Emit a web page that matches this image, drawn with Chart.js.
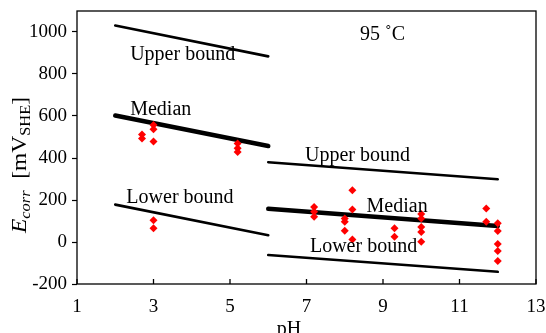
<!DOCTYPE html>
<html>
<head>
<meta charset="utf-8">
<script src="https://cdn.jsdelivr.net/npm/chart.js@4.4.0/dist/chart.umd.min.js"></script>
<style>
  html, body { margin: 0; padding: 0; background: #fff; }
  #wrap { width: 546px; height: 333px; position: relative; }
</style>
</head>
<body>
<div id="wrap"><canvas id="myChart"></canvas></div>
<script>
// bound lines, low pH range and high pH range
const phLow = [2, 6];
const phHigh = [6, 12];
const upperLow = [1031, 884];
const medianLow = [602, 457];
const lowerLow = [178, 32];
const upperHigh = [380, 299];
const medianHigh = [158, 76];
const lowerHigh = [-62, -142];

// measured corrosion potentials
const measPH = [2.7, 2.7, 3, 3, 3, 5.2, 5.2, 5.2, 3, 3,
                7.2, 7.2, 7.2, 8, 8, 8, 8.2, 8.2, 8.2, 9.3, 9.3,
                10, 10, 10, 10, 10, 11.7, 11.7, 12, 12, 12, 12, 12];
const measE = [512, 493, 557, 537, 478, 469, 447, 429, 104, 65,
               167, 144, 120, 112, 96, 53, 247, 155, 12, 65, 25,
               133, 112, 72, 48, 1, 160, 96, 89, 52, -10, -43, -91];

const xTicks = [1, 3, 5, 7, 9, 11, 13];
const yTicks = [-200, 0, 200, 400, 600, 800, 1000];

// text labels: [text, pH, E] (left edge, baseline)
const labels = [
    ['Upper bound', 2.39, 865],
    ['Median', 2.39, 604],
    ['Lower bound', 2.29, 184],
    ['Upper bound', 6.96, 385],
    ['Median', 8.57, 144],
    ['Lower bound', 7.09, -46],
    ['95 \u02DAC', 8.4, 960]
];

const serif = '"Liberation Serif", "Times New Roman", serif';

function pts(xs, ys) 
{
    return xs.map((x, i) => ({x: x, y: ys[i]}));
}

function lineSet(xs, ys, w) 
{
    return {
        type: 'scatter',
        showLine: true,
        data: pts(xs, ys),
        borderColor: '#000',
        borderWidth: w,
        borderCapStyle: 'round',
        pointRadius: 0,
        order: 2
    };
}

const decor = 
{
    id: 'decor',
    afterDraw(chart) 
    {
        const ctx = chart.ctx;
        const a = chart.chartArea;
        const xs = chart.scales.x;
        const ys = chart.scales.y;
        ctx.save();

        // frame
        ctx.strokeStyle = '#000';
        ctx.lineWidth = 1.3;
        ctx.strokeRect(a.left, a.top, a.right - a.left, a.bottom - a.top);

        // inward x ticks
        xTicks.forEach((v) => 
        {
            const px = xs.getPixelForValue(v);
            ctx.beginPath();
            ctx.moveTo(px, a.bottom);
            ctx.lineTo(px, a.bottom - 5);
            ctx.stroke();
        });

        // labels inside plot
        ctx.fillStyle = '#000';
        ctx.textBaseline = 'alphabetic';
        ctx.textAlign = 'left';
        ctx.font = '20px ' + serif;
        labels.forEach((l) => 
        {
            ctx.fillText(l[0], xs.getPixelForValue(l[1]), ys.getPixelForValue(l[2]));
        });

        // x title
        ctx.textAlign = 'center';
        ctx.fillText('pH', 289, 335);

        // y title with subscripts
        const parts = [
            ['E', 'italic 20px ' + serif, 0],
            ['corr', 'italic 14px ' + serif, 4],
            ['  [mV', '20px ' + serif, 0],
            ['SHE', '14px ' + serif, 4],
            [']', '20px ' + serif, 0]
        ];
        let total = 0;
        parts.forEach((p) => { ctx.font = p[1]; total += ctx.measureText(p[0]).width; });
        ctx.translate(26, 165);
        ctx.rotate(-Math.PI / 2);
        ctx.scale(136 / total, 1);
        ctx.textAlign = 'left';
        let cx = -total / 2;
        parts.forEach((p) => 
        {
            ctx.font = p[1];
            ctx.fillText(p[0], cx, p[2]);
            cx += ctx.measureText(p[0]).width;
        });
        ctx.restore();
    }
};

const ctx = document.getElementById('myChart');
new Chart(ctx, 
{
    type: 'scatter',
    data: 
    {
        datasets: 
        [
            {
                type: 'scatter',
                data: pts(measPH, measE),
                pointStyle: 'rectRot',
                pointRadius: 4,
                backgroundColor: '#ff0000',
                borderColor: '#ff0000',
                borderWidth: 0,
                order: 1
            },
            lineSet(phLow, upperLow, 2.6),
            lineSet(phLow, medianLow, 4.5),
            lineSet(phLow, lowerLow, 2.6),
            lineSet(phHigh, upperHigh, 2.6),
            lineSet(phHigh, medianHigh, 4.5),
            lineSet(phHigh, lowerHigh, 2.6)
        ]
    },
    options: 
    {
        responsive: true,
        maintainAspectRatio: false,
        animation: false,
        layout: {padding: {top: 11, right: 10, left: 0, bottom: 0}},
        plugins: {legend: {display: false}, tooltip: {enabled: false}},
        scales: 
        {
            x: 
            {
                type: 'linear',
                min: 1,
                max: 13,
                afterBuildTicks: (s) => { s.ticks = xTicks.map((v) => ({value: v})); },
                afterFit: (s) => { s.height = 49; s.paddingLeft = 0; s.paddingRight = 0; },
                grid: {display: false},
                border: {display: false},
                ticks: {color: '#000', padding: 4, font: {family: serif, size: 19}, callback: (v) => String(v)}
            },
            y: 
            {
                type: 'linear',
                min: -200,
                max: 1100,
                afterBuildTicks: (s) => { s.ticks = yTicks.map((v) => ({value: v})); },
                afterFit: (s) => { s.width = 77; s.paddingTop = 0; s.paddingBottom = 0; },
                grid: {drawOnChartArea: false, drawTicks: true, tickLength: 5, tickColor: '#000', tickWidth: 1.2},
                border: {display: false},
                ticks: {color: '#000', padding: 5, font: {family: serif, size: 19}, callback: (v) => String(v)}
            }
        }
    },
    plugins: [decor]
});
</script>
</body>
</html>
